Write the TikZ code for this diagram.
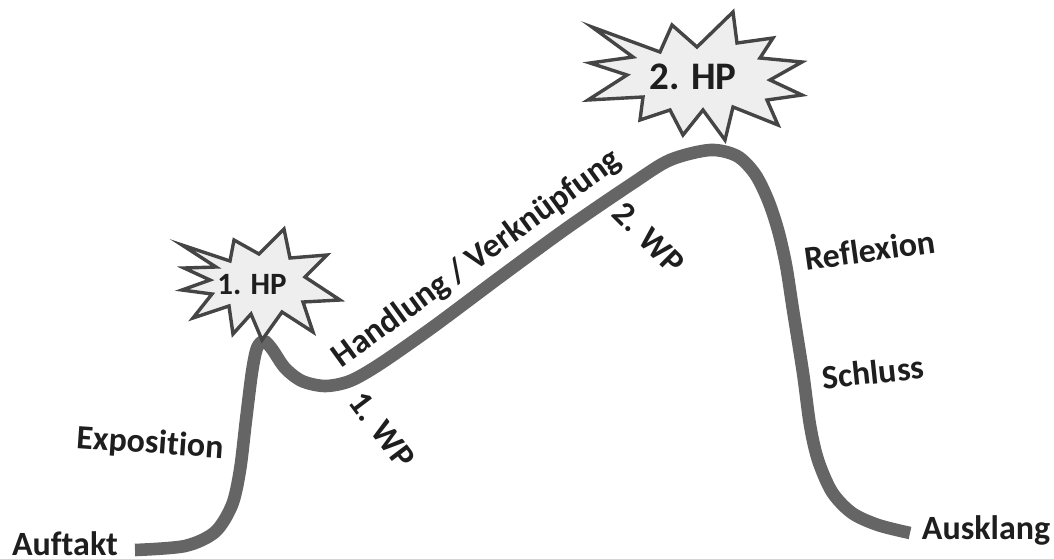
\documentclass[tikz,border=0pt]{standalone}
\usepackage{fontspec}
\setmainfont{Carlito}[Ligatures=NoCommon]
\definecolor{CurveGray}{HTML}{656565}
\definecolor{BurstFill}{HTML}{EEEEEE}
\definecolor{BurstLine}{HTML}{454545}
\definecolor{LabelInk}{HTML}{1E1E1E}

\begin{document}
\begin{tikzpicture}[
        x=0.5pt, y=-0.5pt,
        stage/.style={font=\bfseries\fontsize{17}{20}\selectfont, text=LabelInk, inner sep=0pt},
        burst/.style={draw=BurstLine, fill=BurstFill, line width=1.7pt, line join=miter},
        curve/.style={draw=CurveGray, line width=6.3pt, line cap=butt}
    ]
        \useasboundingbox (0,0) rectangle (1054,558);
        % tension curve
        \draw[curve] plot[smooth, tension=0.5] coordinates {
            (135,550) (185,546) (215,532) (232,505) (240,470) (246,420) (252,372)
            (257,348) (264,341) (272,349) (285,368) (302,381) (325,386) (350,381)
            (380,364) (433,327) (500,277) (567,228) (633,183) (670,160) (710,150)
            (737,156) (755,174) (768,200) (778,230) (786,265) (793,310) (803,373)
            (810,425) (818,460) (832,492) (852,513) (878,525) (910,533)};
        % first climax
        \filldraw[burst] (182,245) -- (230,261) -- (234,240) -- (259,254) -- (284,229)
            -- (290,258) -- (327,255) -- (305,277) -- (340,300) -- (303,302) -- (313,332)
            -- (282,312) -- (262,340) -- (251,314) -- (233,334) -- (229,306) -- (193,318)
            -- (212,294) -- (182,290) -- (210,280) -- (184,268) -- (216,267) -- cycle;
        \node[stage, font=\bfseries\fontsize{15.5}{18}\selectfont] (hp1) at (252,285) {1. HP};
        % second climax
        \filldraw[burst] (592,27) -- (660,52) -- (672,25) -- (697,47) -- (733,12)
            -- (737,43) -- (773,38) -- (760,58) -- (802,62) -- (770,80) -- (802,95)
            -- (767,100) -- (778,125) -- (733,107) -- (725,140) -- (703,110) -- (683,135)
            -- (670,110) -- (640,120) -- (643,97) -- (588,100) -- (627,75) -- (590,63)
            -- (633,57) -- cycle;
        \node[stage, font=\bfseries\fontsize{19.5}{22}\selectfont] (hp2) at (693,77) {2. HP};
        % stages
        \node[stage] (auftakt) at (65,544) {Auftakt};
        \node[stage, rotate=-4] (expo) at (150,444) {Exposition};
        \node[stage, rotate=-53] (wp1) at (382,430) {1. WP};
        \node[stage, rotate=36] (handlung) at (477,259) {Handlung / Verknüpfung};
        \node[stage, rotate=-45] (wp2) at (649,238) {2. WP};
        \node[stage, rotate=8] (reflexion) at (870,250) {Reflexion};
        \node[stage, rotate=6] (schluss) at (873,372) {Schluss};
        \node[stage] (ausklang) at (986,530) {Ausklang};
    \end{tikzpicture}
\end{document}
